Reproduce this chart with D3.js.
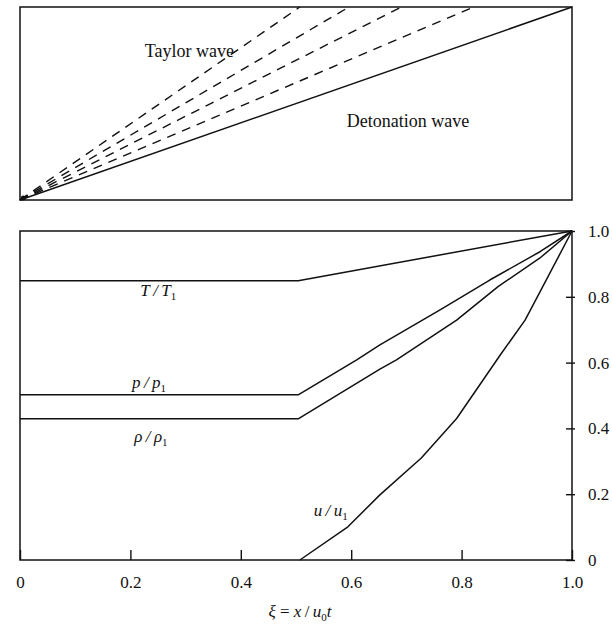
<!DOCTYPE html>
<html>
<head>
<meta charset="utf-8">
<script src="https://cdn.jsdelivr.net/npm/d3@7"></script>
<style>
  body { margin: 0; background: #fff; }
  svg text { font-family: "Liberation Serif", "DejaVu Serif", serif; fill: #111; }
</style>
</head>
<body>
<div id="chart"></div>
<script>
// Top panel: x-t diagram, rays xi = x / (u0 t) at t = 1
const detonationXi = 1.0;
const taylorRaysXi = [0.507, 0.596, 0.691, 0.822];

// Bottom panel: profiles vs xi
const xiT = [0, 0.504, 1.0];
const valT = [0.849, 0.849, 1.0];

const xiP = [0, 0.504, 0.61, 0.652, 0.761, 0.851, 0.942, 1.0];
const valP = [0.502, 0.502, 0.608, 0.654, 0.76, 0.851, 0.937, 1.0];

const xiRho = [0, 0.504, 0.652, 0.682, 0.791, 0.866, 0.942, 1.0];
const valRho = [0.429, 0.429, 0.58, 0.608, 0.729, 0.831, 0.918, 1.0];

const xiU = [0.507, 0.594, 0.652, 0.727, 0.791, 0.87, 0.915, 0.942, 1.0];
const valU = [0, 0.101, 0.198, 0.31, 0.43, 0.623, 0.729, 0.815, 1.0];

const xTicks = [0, 0.2, 0.4, 0.6, 0.8, 1.0];
const yTicks = [0, 0.2, 0.4, 0.6, 0.8, 1.0];

const W = 612, H = 634;
const LEFT = 20, RIGHT = 572;
const TOP1 = 7, BOT1 = 200;   // upper panel
const TOP2 = 231, BOT2 = 560; // lower panel

const svg = d3.select('#chart').append('svg')
  .attr('width', W).attr('height', H);

const x = d3.scaleLinear().domain([0, 1]).range([LEFT, RIGHT]);
const yTop = d3.scaleLinear().domain([0, 1]).range([BOT1, TOP1]);
const yBot = d3.scaleLinear().domain([0, 1]).range([BOT2, TOP2]);

const ink = '#111';

// Frames
[[TOP1, BOT1], [TOP2, BOT2]].forEach(([t, b]) => {
  svg.append('rect')
    .attr('x', LEFT).attr('y', t)
    .attr('width', RIGHT - LEFT).attr('height', b - t)
    .attr('fill', 'none').attr('stroke', ink).attr('stroke-width', 1.5);
});

// Upper panel: Taylor wave characteristics (dashed) and detonation front
const ray = d3.line().x(d => x(d[0])).y(d => yTop(d[1]));

const topPanel = svg.append('g');
taylorRaysXi.forEach(xi => {
  topPanel.append('path')
    .attr('d', ray([[0, 0], [xi, 1]]))
    .attr('fill', 'none').attr('stroke', ink)
    .attr('stroke-width', 1.4)
    .attr('stroke-dasharray', '9,7');
});
topPanel.append('path')
  .attr('d', ray([[0, 0], [detonationXi, 1]]))
  .attr('fill', 'none').attr('stroke', ink).attr('stroke-width', 1.5);
// dark blob where the fan starts
topPanel.append('circle')
  .attr('cx', x(0.006)).attr('cy', yTop(0.01)).attr('r', 2.5).attr('fill', ink);

topPanel.append('text')
  .attr('x', x(0.226)).attr('y', yTop(0.741))
  .style('font-size', '18px')
  .text('Taylor wave');
topPanel.append('text')
  .attr('x', x(0.592)).attr('y', yTop(0.378))
  .style('font-size', '18px')
  .text('Detonation wave');

// Lower panel curves
const prof = d3.line().x(d => x(d[0])).y(d => yBot(d[1]));
const series = [
  d3.zip(xiT, valT),
  d3.zip(xiP, valP),
  d3.zip(xiRho, valRho),
  d3.zip(xiU, valU)
];
svg.append('g').selectAll('path')
  .data(series)
  .enter()
  .append('path')
  .attr('d', prof)
  .attr('fill', 'none').attr('stroke', ink).attr('stroke-width', 1.5)
  .attr('stroke-linejoin', 'round');

// Curve labels: italic symbol / symbol with subscript 1
function ratioLabel(xi, v, sym) {
  const t = svg.append('text')
    .attr('x', x(xi)).attr('y', yBot(v))
    .style('font-size', '17px');
  t.append('tspan').style('font-style', 'italic').text(sym + '\u2009/\u2009' + sym);
  t.append('tspan').attr('dy', 4).style('font-size', '11px').text('1');
}
ratioLabel(0.218, 0.802, 'T');
ratioLabel(0.203, 0.523, 'p');
ratioLabel(0.207, 0.359, 'ρ');
ratioLabel(0.532, 0.134, 'u');

// Axes
const fmt = d => (d === 0 ? '0' : d.toFixed(1));

const xAxis = svg.append('g')
  .attr('transform', `translate(0,${BOT2})`)
  .call(d3.axisBottom(x).tickValues(xTicks).tickSize(-10).tickPadding(16).tickFormat(fmt));
xAxis.select('.domain').remove();
xAxis.selectAll('line').attr('stroke', ink).attr('stroke-width', 1.4);
xAxis.selectAll('text')
  .style('font-size', '17px')
  .attr('fill', ink)
  .attr('font-family', null);

const yAxis = svg.append('g')
  .attr('transform', `translate(${RIGHT},0)`)
  .call(d3.axisRight(yBot).tickValues(yTicks).tickSize(3).tickPadding(13).tickFormat(fmt));
yAxis.select('.domain').remove();
yAxis.selectAll('line').attr('x1', -6).attr('stroke', ink).attr('stroke-width', 1.4);
yAxis.selectAll('text')
  .style('font-size', '17px')
  .attr('fill', ink)
  .attr('font-family', null);

// Axis title: xi = x / u0 t
const title = svg.append('text')
  .attr('x', (LEFT + RIGHT) / 2 + 4).attr('y', 617)
  .attr('text-anchor', 'middle')
  .style('font-size', '17px');
title.append('tspan').style('font-style', 'italic').text('ξ');
title.append('tspan').text(' = ');
title.append('tspan').style('font-style', 'italic').text('x');
title.append('tspan').text('\u2009/\u2009');
title.append('tspan').style('font-style', 'italic').text('u');
title.append('tspan').attr('dy', 4).style('font-size', '11px').text('0');
title.append('tspan').attr('dy', -4).style('font-style', 'italic').text('t');
</script>
</body>
</html>
